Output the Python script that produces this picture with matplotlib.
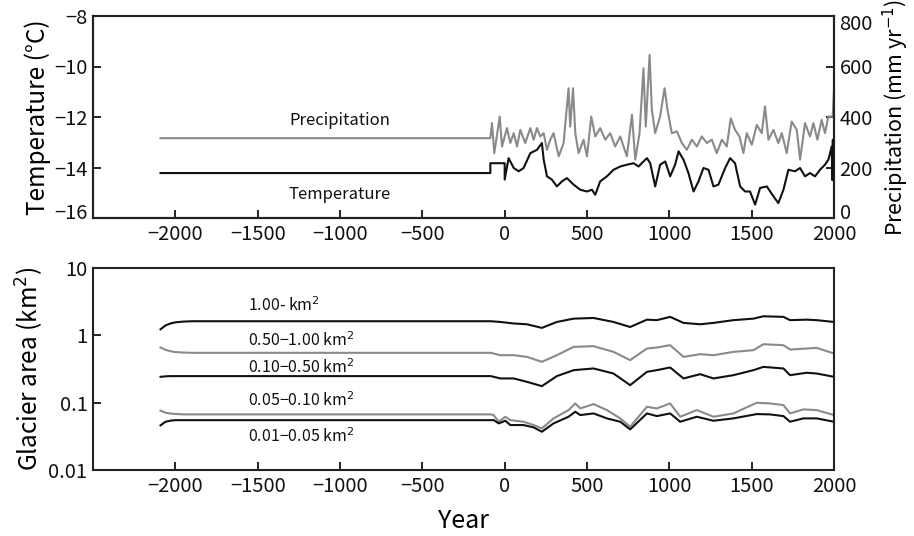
import matplotlib
matplotlib.use("Agg")
import matplotlib.pyplot as plt
from matplotlib.ticker import FixedLocator, NullLocator
from matplotlib.transforms import ScaledTranslation

plt.rcParams['font.family'] = ['Noto Sans CJK JP', 'DejaVu Sans']
plt.rcParams['axes.unicode_minus'] = True

# ---------------- data ----------------
temp_years = [-2090, -87, -87, 0, 0, 24, 55, 85, 115, 156, 196, 226, 237, 257, 287, 317, 348, 378,
              419, 459, 500, 530, 550, 580, 621, 661, 702, 742, 783, 813, 843, 864, 884, 914,
              944, 975, 1005, 1035, 1056, 1086, 1116, 1147, 1177, 1207, 1238, 1268, 1298, 1339,
              1369, 1399, 1430, 1460, 1490, 1521, 1551, 1592, 1632, 1662, 1693, 1723, 1763, 1794,
              1824, 1854, 1885, 1915, 1945, 1966, 1986, 1990, 1993, 1996, 2000]
temp_vals = [-14.22, -14.22, -13.83, -13.83, -14.48, -13.63, -14.02, -14.15, -14.02, -13.43, -13.30,
             -13.03, -13.69, -14.35, -14.48, -14.75, -14.55, -14.42, -14.68, -14.88, -14.95, -14.88,
             -15.08, -14.55, -14.35, -14.09, -13.96, -13.89, -13.83, -13.96, -13.76, -13.63, -13.83,
             -14.75, -13.89, -13.76, -14.35, -13.89, -13.36, -13.69, -14.22, -14.95, -14.55, -14.02,
             -14.09, -14.75, -14.68, -14.02, -13.63, -13.83, -14.75, -14.95, -14.95, -15.47, -14.81,
             -14.75, -15.14, -15.41, -14.88, -14.09, -14.15, -14.02, -14.35, -14.22, -14.35, -14.09,
             -13.89, -13.69, -13.17, -14.5, -12.9, -14.3, -13.0]

prec_years = [-2090, -87, -77, -63, -30, -16, 14, 34, 55, 75, 95, 125, 156, 176, 196, 216, 237, 257,
              277, 297, 328, 358, 388, 398, 415, 429, 449, 479, 500, 526, 550, 580, 611, 641, 671,
              702, 742, 773, 793, 819, 843, 857, 880, 894, 914, 944, 971, 989, 1015, 1046, 1076,
              1106, 1137, 1167, 1197, 1228, 1258, 1288, 1319, 1349, 1373, 1399, 1426, 1450, 1470,
              1501, 1531, 1561, 1581, 1602, 1632, 1662, 1683, 1713, 1743, 1774, 1794, 1824, 1854,
              1875, 1899, 1925, 1945, 1966, 1992, 2000]
prec_vals = [316, 316, 376, 257, 402, 283, 356, 297, 336, 283, 349, 297, 356, 310, 356, 323, 336, 270,
             310, 336, 244, 297, 514, 362, 514, 336, 257, 310, 244, 402, 323, 356, 310, 336, 283,
             323, 244, 409, 231, 336, 593, 362, 646, 428, 336, 402, 514, 428, 336, 343, 297,
             270, 310, 283, 323, 297, 310, 257, 310, 283, 395, 349, 323, 257, 336,
             290, 369, 336, 442, 310, 349, 297, 336, 257, 382, 349, 231, 376, 323,
             376, 310, 389, 336, 402, 402, 507]

area_years_a = [-2090, -2060, -2030, -2000, -1950, -1900, -85, -26, 55, 135, 226, 317, 419, 540, 661,
                762, 864, 924, 1005, 1086, 1187, 1268, 1389, 1511, 1571, 1693, 1733, 1834, 1895, 2000]
area_large = [1.23, 1.40, 1.50, 1.56, 1.60, 1.62, 1.62, 1.58, 1.50, 1.46, 1.29, 1.58, 1.77, 1.81, 1.58,
              1.33, 1.71, 1.68, 1.88, 1.53, 1.46, 1.53, 1.68, 1.77, 1.92, 1.88, 1.68, 1.71, 1.68, 1.58]
area_050_100 = [0.66, 0.61, 0.58, 0.565, 0.555, 0.55, 0.55, 0.507, 0.507, 0.479, 0.404, 0.507, 0.674,
                0.690, 0.568, 0.428, 0.637, 0.659, 0.714, 0.479, 0.525, 0.507, 0.568, 0.602, 0.738,
                0.714, 0.615, 0.637, 0.651, 0.537]
area_010_050 = [0.242, 0.246, 0.248, 0.248, 0.248, 0.248, 0.248, 0.229, 0.229, 0.204, 0.176, 0.248,
                0.304, 0.322, 0.271, 0.182, 0.287, 0.304, 0.333, 0.229, 0.265, 0.229, 0.256, 0.304,
                0.340, 0.322, 0.256, 0.278, 0.271, 0.242]

area_years_b = [-2090, -2060, -2030, -2000, -1950, -1900, -85, -67, -36, 4, 34, 115, 176, 226, 297,
                388, 429, 459, 540, 621, 702, 762, 864, 924, 1005, 1066, 1167, 1268, 1389, 1531,
                1612, 1693, 1733, 1814, 1895, 2000]
area_005_010 = [0.076, 0.071, 0.069, 0.068, 0.067, 0.067, 0.067, 0.0654, 0.0521, 0.0618, 0.0551,
                0.0521, 0.0465, 0.0415, 0.0584, 0.0775, 0.0974, 0.0821, 0.0952, 0.0775, 0.0584,
                0.0439, 0.0869, 0.0821, 0.0974, 0.0618, 0.0775, 0.0618, 0.0692, 0.0997, 0.0974,
                0.0920, 0.0692, 0.0794, 0.0775, 0.0654]
area_001_005 = [0.046, 0.052, 0.054, 0.055, 0.055, 0.055, 0.055, 0.0551, 0.0492, 0.0539, 0.0465,
                0.0465, 0.0429, 0.0370, 0.0492, 0.0618, 0.0733, 0.0654, 0.0692, 0.0584, 0.0521,
                0.0401, 0.0692, 0.0632, 0.0692, 0.0521, 0.0618, 0.0539, 0.0584, 0.0677, 0.0669,
                0.0632, 0.0521, 0.0584, 0.0584, 0.0521]

x_ticks = [-2000, -1500, -1000, -500, 0, 500, 1000, 1500, 2000]
temp_ticks = [-16, -14, -12, -10, -8]
prec_ticks = [0, 200, 400, 600, 800]
area_ticks = [0.01, 0.1, 1, 10]
area_tick_labels = ["0.01", "0.1", "1", "10"]
class_labels = ["1.00- km$^2$", "0.50\u22121.00 km$^2$", "0.10\u22120.50 km$^2$",
                "0.05\u22120.10 km$^2$", "0.01\u22120.05 km$^2$"]

# ---------------- figure ----------------
BLACK = "#111111"
GRAY = "#8a8a8a"
fig = plt.figure(figsize=(9.14, 5.36), dpi=100)
ax1 = fig.add_axes([93/914, 1-218/536, (834-93)/914, (218-16)/536])
ax2 = fig.add_axes([93/914, 1-470/536, (834-93)/914, (470-268)/536])
ax1r = ax1.twinx()

tick_fs = 14.5
for ax in (ax1, ax2, ax1r):
    for s in ax.spines.values():
        s.set_linewidth(1.5)
        s.set_color("#222222")
    ax.tick_params(direction="in", length=6, width=1.3, labelsize=tick_fs, colors="#111111", pad=4)

# top panel
ax1.plot(temp_years, temp_vals, color=BLACK, lw=1.5, zorder=3)
ax1r.plot(prec_years, prec_vals, color=GRAY, lw=1.5, zorder=2)
ax1.set_zorder(ax1r.get_zorder() + 1)
ax1.patch.set_visible(False)
ax1.set_xlim(-2500, 2000)
ax1.set_ylim(-16, -8)
ax1r.set_ylim(0, 800)
ax1.set_xticks(x_ticks)
ax1.set_yticks(temp_ticks)
ax1r.set_yticks(prec_ticks)
ax1.tick_params(axis="x", top=False)
ax1.set_ylabel("Temperature (°C)", fontsize=17.5, labelpad=2)
ax1r.set_ylabel("Precipitation (mm yr$^{-1}$)", fontsize=15.5, labelpad=6)
ax1.text(-1000, -12.15, "Precipitation", fontsize=12, ha="center", va="center", color=BLACK)
ax1.text(-1000, -15.05, "Temperature", fontsize=12, ha="center", va="center", color=BLACK)

# bottom panel
ax2.set_yscale("log")
ax2.plot(area_years_a, area_large, color=BLACK, lw=1.5)
ax2.plot(area_years_a, area_050_100, color=GRAY, lw=1.5)
ax2.plot(area_years_a, area_010_050, color=BLACK, lw=1.5)
ax2.plot(area_years_b, area_005_010, color=GRAY, lw=1.5)
ax2.plot(area_years_b, area_001_005, color=BLACK, lw=1.5)
ax2.set_xlim(-2500, 2000)
ax2.set_ylim(0.01, 10)
ax2.set_xticks(x_ticks)
ax2.yaxis.set_major_locator(FixedLocator(area_ticks))
ax2.yaxis.set_minor_locator(NullLocator())
ax2.set_yticklabels(area_tick_labels)
ax2.set_ylabel("Glacier area (km$^2$)", fontsize=17.5, labelpad=2)
ax2.set_xlabel("Year", fontsize=18, labelpad=8)

label_y = [2.8, 0.84, 0.33, 0.106, 0.031]
for lab, yv in zip(class_labels, label_y):
    ax2.text(-1560, yv, lab, fontsize=11.5, ha="left", va="center", color=BLACK)

# nudge end labels inside like the reference
fig.canvas.draw()
up = ScaledTranslation(0, 5/72, fig.dpi_scale_trans)
down = ScaledTranslation(0, -4/72, fig.dpi_scale_trans)
for lab in ax1r.get_yticklabels():
    if lab.get_text() == "0":
        lab.set_transform(lab.get_transform() + up)
    if lab.get_text() == "800":
        lab.set_transform(lab.get_transform() + down)
for lab in ax1.get_yticklabels():
    if lab.get_text() in ("\u221216", "-16"):
        lab.set_transform(lab.get_transform() + up)

fig.savefig("out.png", dpi=100)
